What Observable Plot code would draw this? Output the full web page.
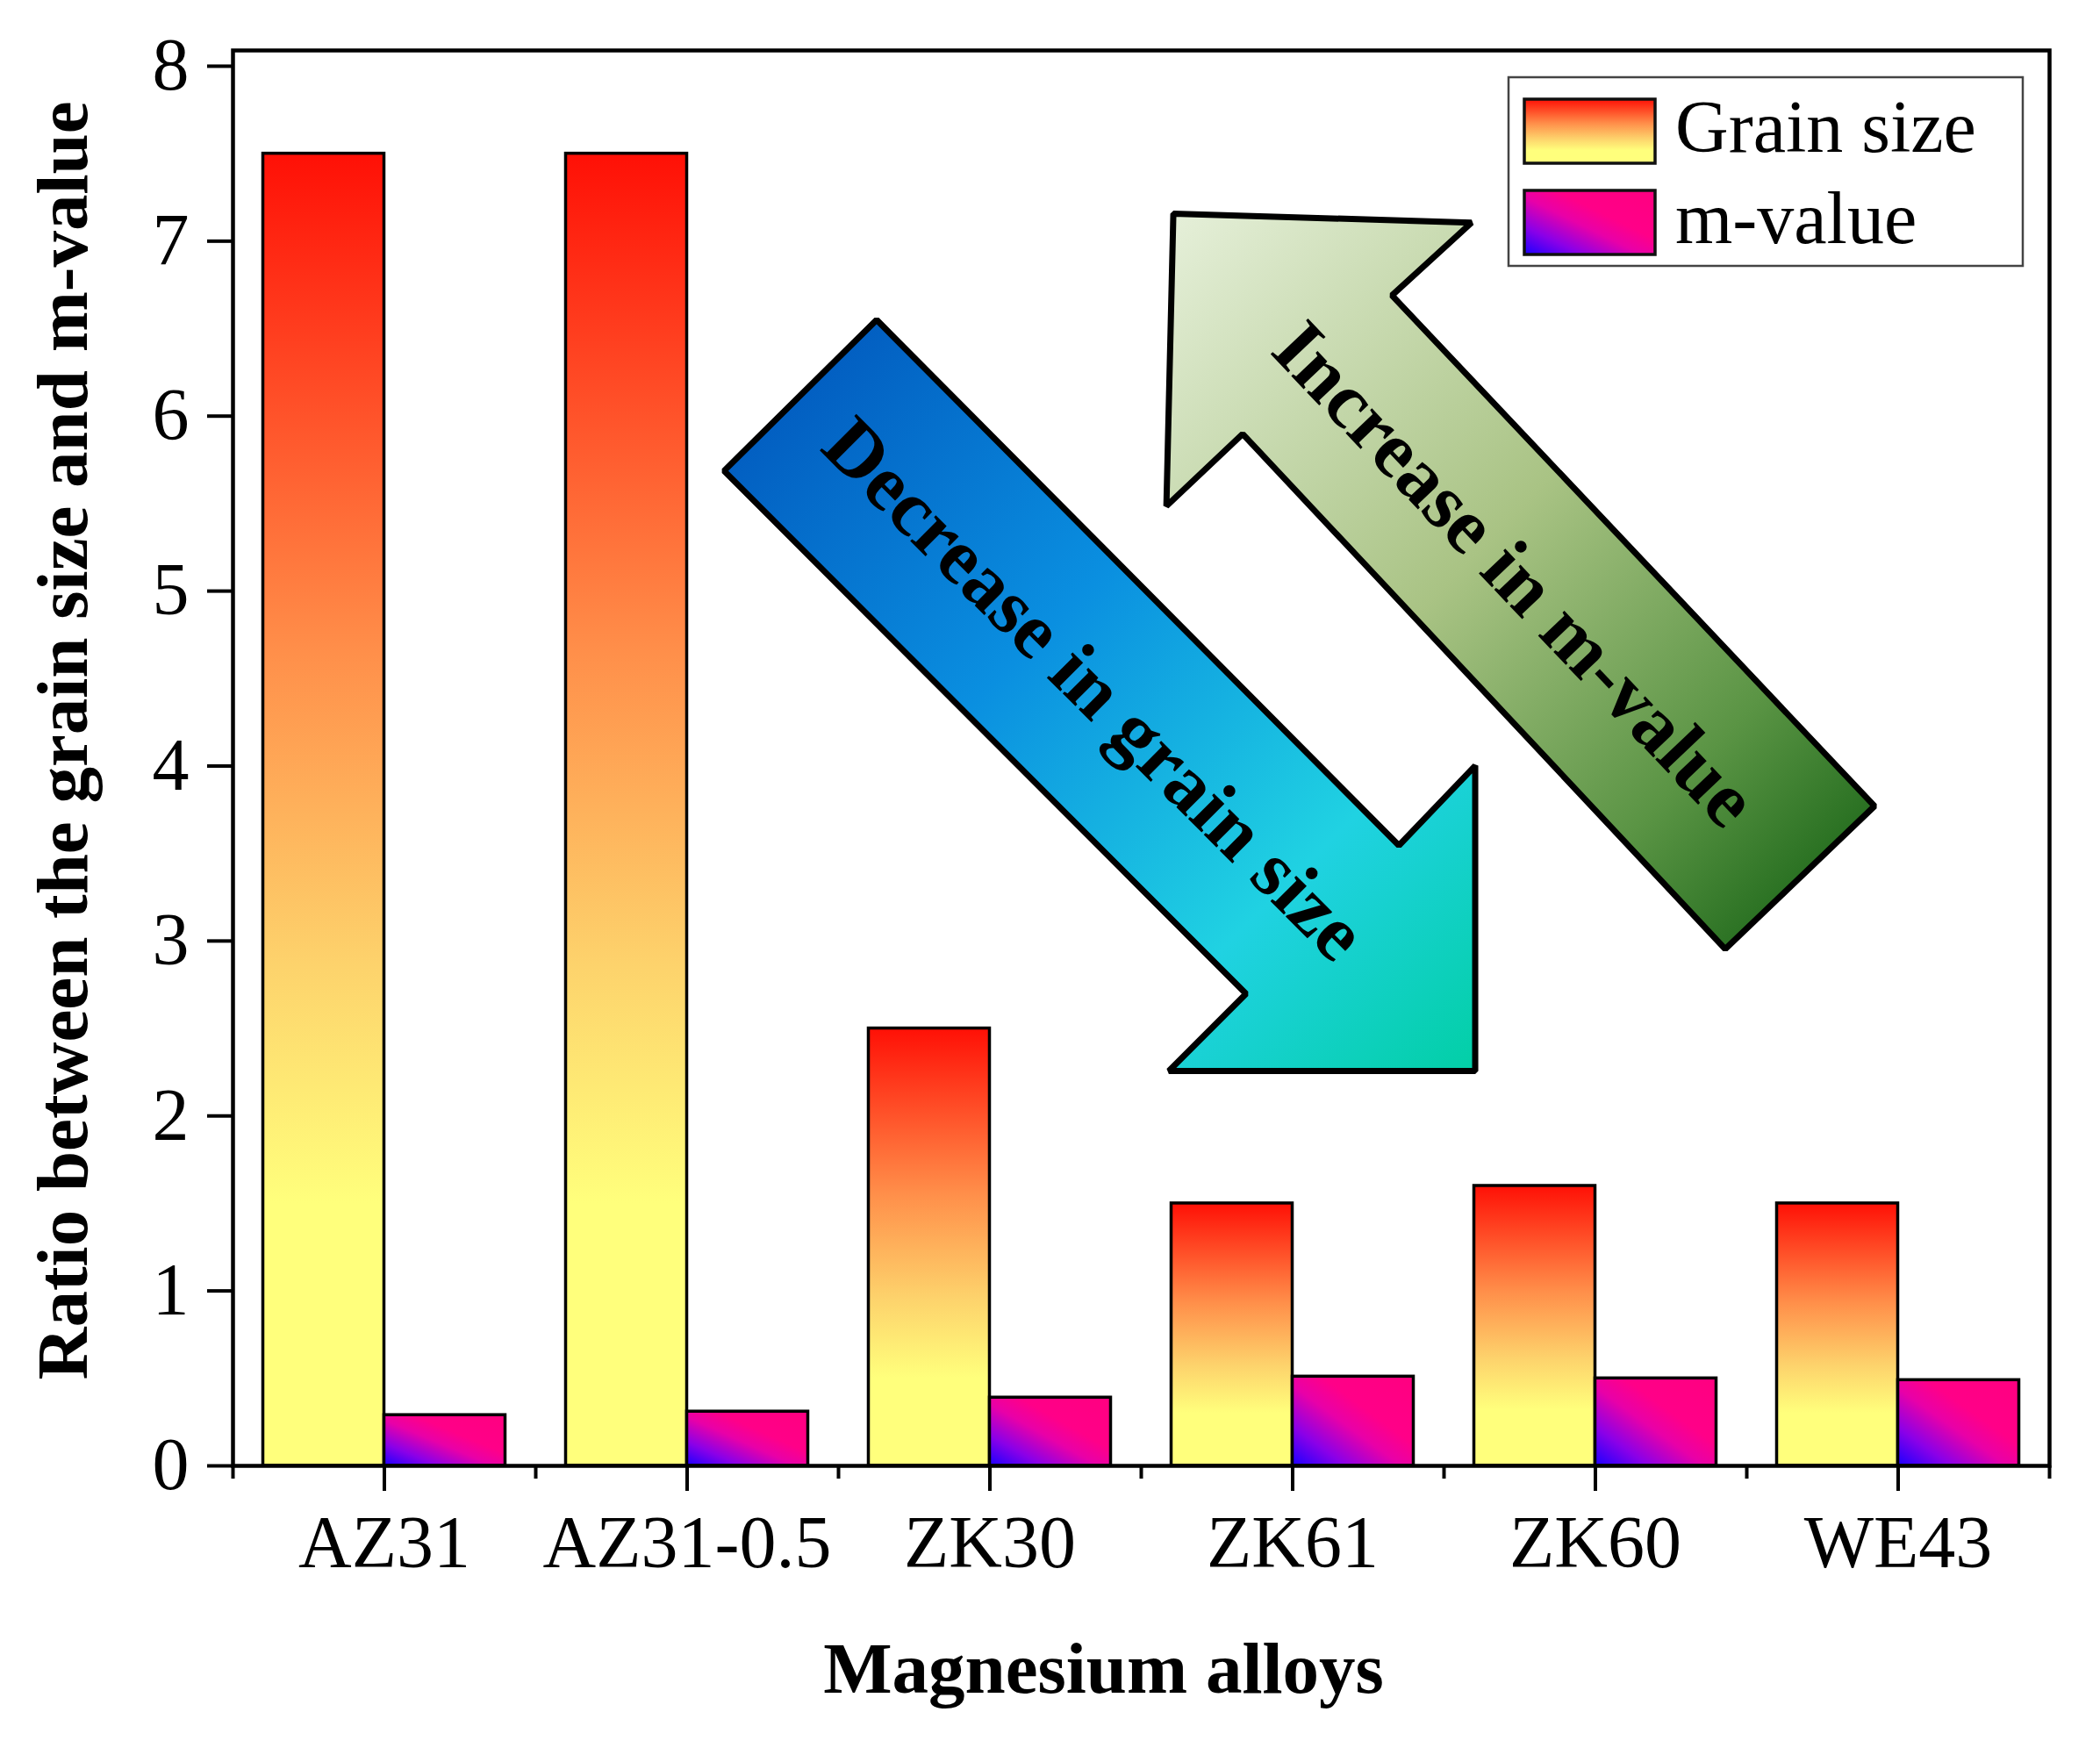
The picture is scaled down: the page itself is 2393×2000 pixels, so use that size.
<!DOCTYPE html>
<html><head><meta charset="utf-8">
<script src="https://cdn.jsdelivr.net/npm/d3@7"></script>
<script src="https://cdn.jsdelivr.net/npm/@observablehq/plot@0.6"></script>
<style>body{margin:0;background:#fff}</style>
</head><body><div id="chart"></div>
<script>
// ---- data ----
const alloys = ["AZ31", "AZ31-0.5", "ZK30", "ZK61", "ZK60", "WE43"];
const grainSize = [7.5, 7.5, 2.5, 1.5, 1.6, 1.5];
const mValue = [0.29, 0.31, 0.39, 0.51, 0.50, 0.49];
const yTicks = [0, 1, 2, 3, 4, 5, 6, 7, 8];
const seriesNames = ["Grain size", "m-value"];
const xTitle = "Magnesium alloys";
const yTitle = "Ratio between the grain size and m-value";
// annotation arrows (vertices in data units: x = alloy index, y = ratio)
const decreaseArrow = [
  {x: 1.122, y: 5.687}, {x: 1.626, y: 6.550}, {x: 3.351, y: 3.546}, {x: 3.603, y: 4.002},
  {x: 3.603, y: 2.257}, {x: 2.591, y: 2.257}, {x: 2.846, y: 2.698}
];
const increaseArrow = [
  {x: 2.606, y: 7.157}, {x: 3.591, y: 7.106}, {x: 3.328, y: 6.690}, {x: 4.922, y: 3.771},
  {x: 4.429, y: 2.954}, {x: 2.835, y: 5.898}, {x: 2.583, y: 5.486}
];
const arrowLabels = [
  {x: 2.345, y: 4.438, text: "Decrease in grain size", rotate: 45},
  {x: 3.733, y: 5.095, text: "Increase in m-value", rotate: 46.5}
];

const grainData = alloys.map((a, i) => ({i, alloy: a, v: grainSize[i]}));
const mData = alloys.map((a, i) => ({i, alloy: a, v: mValue[i]}));
const majorTicks = alloys.map((a, i) => i);
const minorTicks = alloys.map((a, i) => i - 0.5).concat([alloys.length - 0.5]);

const FONT = "'Times New Roman', 'Liberation Serif', serif";

function defsMark() {
  const g = d3.create("svg:g");
  g.html(`<defs>
    <linearGradient id="gradGrain" x1="0" y1="0" x2="0" y2="1">
      <stop offset="0" stop-color="#ff1006"/>
      <stop offset="0.38" stop-color="#ff8f4a"/>
      <stop offset="0.62" stop-color="#fdd36c"/>
      <stop offset="0.8" stop-color="#ffff7c"/>
      <stop offset="1" stop-color="#ffff7c"/>
    </linearGradient>
    <linearGradient id="gradM" x1="0" y1="1" x2="1" y2="0">
      <stop offset="0" stop-color="#1a00ff"/>
      <stop offset="0.22" stop-color="#8a00e8"/>
      <stop offset="0.45" stop-color="#e800a8"/>
      <stop offset="0.62" stop-color="#ff0088"/>
      <stop offset="1" stop-color="#ff0080"/>
    </linearGradient>
    <linearGradient id="gradBlue" x1="0" y1="0" x2="1" y2="1">
      <stop offset="0" stop-color="#0050b8"/>
      <stop offset="0.42" stop-color="#0a8fe0"/>
      <stop offset="0.75" stop-color="#20d2e2"/>
      <stop offset="1" stop-color="#02cfa6"/>
    </linearGradient>
    <linearGradient id="gradGreen" x1="0" y1="0" x2="1" y2="1">
      <stop offset="0" stop-color="#e6f0da"/>
      <stop offset="0.45" stop-color="#a9c384"/>
      <stop offset="0.75" stop-color="#5a9444"/>
      <stop offset="1" stop-color="#0a5a0c"/>
    </linearGradient>
  </defs>`);
  return g.node();
}

function legendMark(index, scales, values, dims) {
  const right = dims.width - dims.marginRight - 30;
  const top = dims.marginTop + 31;
  const w = 586, h = 215;
  const left = right - w;
  const g = d3.create("svg:g");
  g.append("rect").attr("x", left).attr("y", top).attr("width", w).attr("height", h)
    .attr("fill", "white").attr("stroke", "#444").attr("stroke-width", 2.5);
  const grads = ["url(#gradGrain)", "url(#gradM)"];
  seriesNames.forEach((name, k) => {
    const sy = top + 25 + k * 104;
    g.append("rect").attr("x", left + 18).attr("y", sy).attr("width", 149).attr("height", 73)
      .attr("fill", grads[k]).attr("stroke", "#111").attr("stroke-width", 3.5);
    g.append("text").attr("x", left + 190).attr("y", sy + 60)
      .attr("text-anchor", "start")
      .attr("font-family", FONT).attr("font-size", 84).attr("fill", "black").text(name);
  });
  return g.node();
}

const chart = Plot.plot({
  width: 2393,
  height: 2000,
  marginTop: 57,
  marginBottom: 330,
  marginLeft: 265,
  marginRight: 58,
  style: {fontFamily: FONT, background: "white", color: "black"},
  x: {type: "linear", domain: [-0.5, alloys.length - 0.5]},
  y: {domain: [0, 8.09]},
  marks: [
    defsMark,
    Plot.rectY(grainData, {x1: d => d.i - 0.4, x2: d => d.i, y: "v", fill: "url(#gradGrain)", stroke: "black", strokeWidth: 3.5}),
    Plot.rectY(mData, {x1: d => d.i, x2: d => d.i + 0.4, y: "v", fill: "url(#gradM)", stroke: "black", strokeWidth: 3.5}),
    Plot.line(decreaseArrow, {x: "x", y: "y", curve: "linear-closed", fill: "url(#gradBlue)", stroke: "black", strokeWidth: 7, strokeLinejoin: "miter"}),
    Plot.line(increaseArrow, {x: "x", y: "y", curve: "linear-closed", fill: "url(#gradGreen)", stroke: "black", strokeWidth: 7, strokeLinejoin: "miter"}),
    Plot.text(arrowLabels, {x: "x", y: "y", text: "text", rotate: "rotate", fontSize: 90, fontWeight: "bold", fill: "black"}),
    Plot.frame({stroke: "black", strokeWidth: 4.5}),
    Plot.axisY({ticks: yTicks, tickSize: 29, tickPadding: 21, fontSize: 84, strokeWidth: 4, label: null}),
    Plot.axisX({ticks: majorTicks, tickFormat: i => alloys[i], tickSize: 29, tickPadding: 27, fontSize: 84, strokeWidth: 4, label: null}),
    Plot.axisX({ticks: minorTicks, tickFormat: () => "", tickSize: 15, strokeWidth: 4, label: null}),
    Plot.text([yTitle], {frameAnchor: "left", textAnchor: "middle", dx: -193, dy: -20, rotate: -90, text: d => d, fontSize: 83, fontWeight: "bold"}),
    Plot.text([xTitle], {frameAnchor: "bottom", textAnchor: "middle", dx: -43, dy: 258, text: d => d, fontSize: 83, fontWeight: "bold"}),
    legendMark
  ]
});
document.getElementById("chart").appendChild(chart);
</script>
</body></html>
